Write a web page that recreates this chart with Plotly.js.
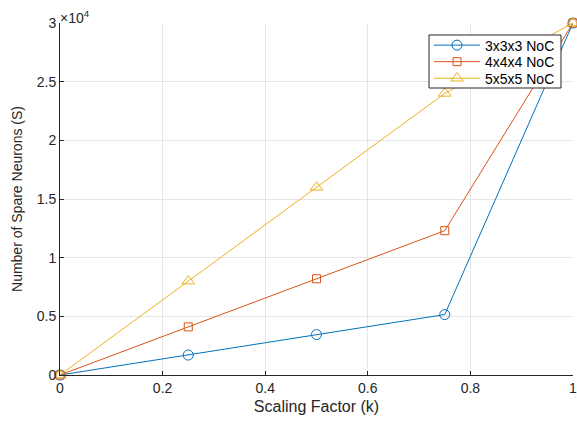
<!DOCTYPE html>
<html>
<head>
<meta charset="utf-8">
<script src="https://cdn.plot.ly/plotly-3.0.1.min.js"></script>
<style>html,body{margin:0;padding:0;background:#fff;}#chart{width:577px;height:422px;}</style>
</head>
<body>
<div id="chart"></div>
<script>
const scalingFactor = [0, 0.25, 0.5, 0.75, 1];
const noc3 = [0, 1700, 3450, 5150, 30000];
const noc4 = [0, 4100, 8200, 12300, 30000];
const noc5 = [0, 8000, 16000, 24000, 30000];
const seriesNames = ['3x3x3 NoC', '4x4x4 NoC', '5x5x5 NoC'];
const yTickVals = [0, 5000, 10000, 15000, 20000, 25000, 30000];
const yTickText = ['0', '0.5', '1', '1.5', '2', '2.5', '3'];
const xTickVals = [0, 0.2, 0.4, 0.6, 0.8, 1];
const xTickText = ['0', '0.2', '0.4', '0.6', '0.8', '1'];

const colors = ['#0072BD', '#D95319', '#EDB120'];
const symbols = ['circle-open', 'square-open', 'triangle-up-open'];
const sizes = [10, 8, 11];
const ys = [noc3, noc4, noc5];
const legendIds = ['legend', 'legend2', 'legend3'];
const legendRowY = [0.936, 0.889, 0.842];

const FONT = 'Liberation Sans, Arial, sans-serif';
const traces = ys.map((y, i) => ({
  x: scalingFactor, y: y, name: seriesNames[i], type: 'scatter', mode: 'lines+markers',
  legend: legendIds[i], cliponaxis: false,
  line: {color: colors[i], width: 1},
  marker: {symbol: symbols[i], size: sizes[i], color: colors[i], line: {width: 1, color: colors[i]}}
}));

const tickFont = {family: FONT, size: 14, color: '#262626'};
const layout = {
  width: 577, height: 422,
  margin: {l: 60, r: 4, t: 23, b: 47},
  paper_bgcolor: '#fff', plot_bgcolor: '#fff',
  font: tickFont,
  showlegend: true,
  xaxis: {range: [0, 1], tickvals: xTickVals, ticktext: xTickText, showgrid: true, gridcolor: '#e6e6e6',
    zeroline: false, showline: true, linecolor: '#262626', linewidth: 1, ticks: 'inside', ticklen: 4,
    tickcolor: '#262626', tickfont: tickFont, ticklabeloverflow: 'allow',
    title: {text: 'Scaling Factor (k)', font: {family: FONT, size: 16, color: '#262626'}, standoff: 6}},
  yaxis: {range: [0, 30000], tickvals: yTickVals, ticktext: yTickText, showgrid: true, gridcolor: '#e6e6e6',
    zeroline: false, showline: true, linecolor: '#262626', linewidth: 1, ticks: 'inside', ticklen: 4,
    tickcolor: '#262626', tickfont: tickFont, ticklabeloverflow: 'allow',
    title: {text: 'Number of Spare Neurons (S)', font: {family: FONT, size: 14, color: '#262626'}, standoff: 10}},
  shapes: [{type: 'rect', xref: 'paper', yref: 'paper', x0: 0.7193, x1: 0.9766, y0: 0.8153, y1: 0.9659,
    layer: 'above', fillcolor: '#ffffff', line: {color: '#262626', width: 1}}],
  annotations: [{xref: 'paper', yref: 'paper', x: 0, y: 1, xanchor: 'left', yanchor: 'bottom', showarrow: false,
    text: '\u00d710<sup>4</sup>', font: {family: FONT, size: 14, color: '#262626'}, yshift: -5, xshift: -2}]
};
legendIds.forEach((id, i) => {
  layout[id] = {x: 0.7193, y: legendRowY[i], xanchor: 'left', yanchor: 'middle', bgcolor: 'rgba(0,0,0,0)',
    borderwidth: 0, itemwidth: 46, font: {family: FONT, size: 14, color: '#000'}};
});
Plotly.newPlot('chart', traces, layout, {displayModeBar: false, staticPlot: true});
</script>
</body>
</html>
